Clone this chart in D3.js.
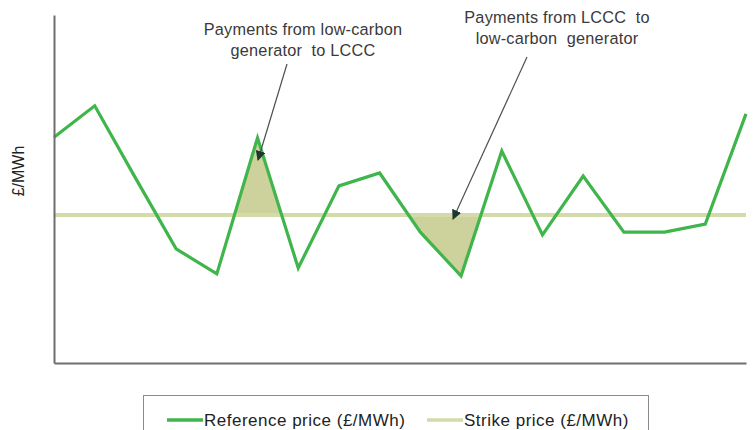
<!DOCTYPE html>
<html><head><meta charset="utf-8">
<script src="https://cdn.jsdelivr.net/npm/d3@7"></script>
<style>
body{margin:0;background:#fff;}
text{font-family:"Liberation Sans",Arial,sans-serif;white-space:pre;}
</style></head>
<body><svg id="c" width="755" height="430"></svg>
<script>
const periods = d3.range(18);
const referencePrice = [64.9,73.9,53.2,32.8,25.6,64.7,27.3,50.9,54.6,37.6,25.0,60.9,36.8,53.7,37.6,37.6,39.9,71.6];
const strikePrice = 42.5;
const legendLabels = ["Reference price (£/MWh)","Strike price (£/MWh)"];
const yLabel = "£/MWh";
const annotations = [
  {lines:["Payments from low-carbon","generator  to LCCC"], cx:303, y:35, from:[287,64], to:[258,160]},
  {lines:["Payments from LCCC  to","low-carbon  generator"], cx:557, y:23, from:[527,57], to:[453,219]}
];
const shadeRanges = [[4,6],[8,11]];

const svg = d3.select("#c");
const margin = {left:54, right:9, top:15, bottom:67};
const W = 755, H = 430;
const x = d3.scaleLinear().domain([0,17]).range([margin.left, W-margin.right]);
const y = d3.scaleLinear().domain([0,100]).range([H-margin.bottom, margin.top]);

function crossing(i){
  const a = referencePrice[i], b = referencePrice[i+1];
  const t = (strikePrice - a)/(b - a);
  return i + t;
}
shadeRanges.forEach(([s,e])=>{
  const pts = [[crossing(s), strikePrice]];
  for(let i=s+1;i<=e-1;i++) pts.push([i, referencePrice[i]]);
  pts.push([crossing(e-1), strikePrice]);
  svg.append("path")
    .attr("d", d3.line().x(d=>x(d[0])).y(d=>y(d[1]))(pts)+"Z")
    .attr("fill","#cdd29c");
});

svg.append("line")
  .attr("x1", x(0)).attr("x2", x(17))
  .attr("y1", y(strikePrice)).attr("y2", y(strikePrice))
  .attr("stroke","#d4dbaa").attr("stroke-width",4);

svg.append("path")
  .datum(referencePrice)
  .attr("d", d3.line().x((d,i)=>x(periods[i])).y(d=>y(d)))
  .attr("fill","none").attr("stroke","#3fb54b").attr("stroke-width",3.2)
  .attr("stroke-linejoin","miter");

const yAxis = svg.append("g").attr("transform",`translate(${margin.left},0)`)
  .call(d3.axisLeft(y).ticks(0).tickSize(0));
const xAxis = svg.append("g").attr("transform",`translate(0,${H-margin.bottom})`)
  .call(d3.axisBottom(x).ticks(0).tickSize(0));
[yAxis,xAxis].forEach(g=>{g.select(".domain").attr("stroke","#6e6e6e").attr("stroke-width",2);g.selectAll("text").remove();});

svg.append("text")
  .attr("transform","translate(24,171) rotate(-90)")
  .attr("text-anchor","middle").attr("font-size",16).attr("fill","#222")
  .text(yLabel);

svg.append("defs").append("marker")
  .attr("id","ah").attr("viewBox","0 0 10 10").attr("refX",9).attr("refY",5)
  .attr("markerWidth",10).attr("markerHeight",10).attr("markerUnits","userSpaceOnUse")
  .attr("orient","auto")
  .append("path").attr("d","M0,0L10,5L0,10Z").attr("fill","#1f3530");

annotations.forEach(a=>{
  const t = svg.append("text").attr("text-anchor","middle").attr("font-size",16.3)
    .attr("fill","#3a3a3a").attr("letter-spacing",0.2);
  a.lines.forEach((l,i)=>t.append("tspan").attr("x",a.cx).attr("y",a.y+i*21).text(l));
  svg.append("line")
    .attr("x1",a.from[0]).attr("y1",a.from[1]).attr("x2",a.to[0]).attr("y2",a.to[1])
    .attr("stroke","#4a5250").attr("stroke-width",1.2).attr("marker-end","url(#ah)");
});

const lg = svg.append("g");
lg.append("rect").attr("x",143.5).attr("y",395.5).attr("width",505).attr("height",60)
  .attr("fill","#fff").attr("stroke","#8a8a8a").attr("stroke-width",1);
const legendColors = ["#3fb54b","#d4dbaa"];
const legendX = [167,427];
legendLabels.forEach((lab,i)=>{
  lg.append("line").attr("x1",legendX[i]).attr("x2",legendX[i]+36)
    .attr("y1",420).attr("y2",420).attr("stroke",legendColors[i]).attr("stroke-width",3.5);
  lg.append("text").attr("x",legendX[i]+37).attr("y",426).attr("font-size",17)
    .attr("letter-spacing",0.5).attr("fill","#222").text(lab);
});
</script></body></html>
